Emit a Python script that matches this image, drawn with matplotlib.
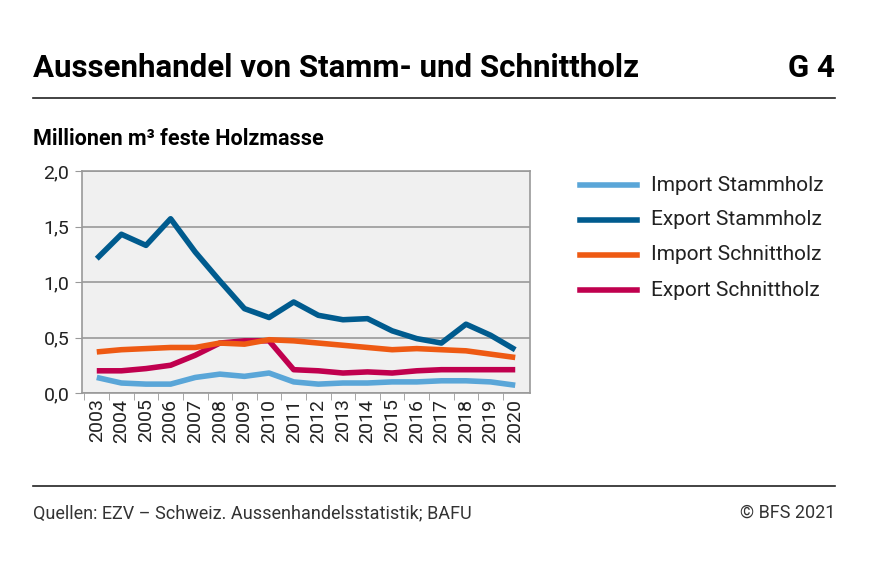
import matplotlib
matplotlib.use("Agg")
import matplotlib.pyplot as plt
from matplotlib.lines import Line2D

plt.rcParams['font.family'] = ['Roboto', 'DejaVu Sans']

years = list(range(2003, 2021))
import_stamm = [0.14,0.09,0.08,0.08,0.14,0.17,0.15,0.18,0.10,0.08,0.09,0.09,0.10,0.10,0.11,0.11,0.10,0.07]
export_stamm = [1.21,1.43,1.33,1.57,1.27,1.01,0.76,0.68,0.82,0.70,0.66,0.67,0.56,0.49,0.45,0.62,0.52,0.39]
import_schnitt = [0.37,0.39,0.40,0.41,0.41,0.45,0.44,0.48,0.47,0.45,0.43,0.41,0.39,0.40,0.39,0.38,0.35,0.32]
export_schnitt = [0.20,0.20,0.22,0.25,0.34,0.45,0.47,0.47,0.21,0.20,0.18,0.19,0.18,0.20,0.21,0.21,0.21,0.21]
names = ["Import Stammholz","Export Stammholz","Import Schnittholz","Export Schnittholz"]
colors = ["#5aa6d8","#005b8e","#ee5a13","#c0004e"]

fig = plt.figure(figsize=(8.74,5.65), dpi=100)
ax = fig.add_axes([82/874, 1-393/565, 448/874, 222/565])
ax.set_facecolor("#f0f0f0")
series = [import_stamm, export_stamm, import_schnitt, export_schnitt]
for i in [3,2,0,1]:
    ax.plot(years, series[i], color=colors[i], lw=4, solid_capstyle='butt', zorder=3)
ax.set_xlim(2002.4, 2020.6)
ax.set_ylim(0, 2.0)
ax.set_yticks([0,0.5,1.0,1.5,2.0])
ax.set_yticklabels(["0,0","0,5","1,0","1,5","2,0"], fontsize=14, color="#222")
ax.set_xticks(years)
ax.set_xticklabels([str(y) for y in years], rotation=90, fontsize=14, color="#222")
ax.set_xticks([y+0.5 for y in years[:-1]] + [2002.5], minor=True)
ax.tick_params(axis='x', which='major', length=0, pad=4)
ax.tick_params(axis='x', which='minor', length=5, color="#999")
ax.tick_params(axis='y', length=5, color="#999", pad=4)
ax.grid(axis='y', color="#999", lw=1.2, zorder=1)
for s in ax.spines.values():
    s.set_color("#999"); s.set_linewidth(1.2)

fig.text(33/874, 1-68/565, "Aussenhandel von Stamm- und Schnittholz", fontsize=22.5, fontweight='bold', va='center')
fig.text(835/874, 1-68/565, "G 4", fontsize=22.5, fontweight='bold', va='center', ha='right')
fig.add_artist(Line2D([33/874, 835/874], [1-98/565]*2, color="#222", lw=1.2))
fig.text(33/874, 1-139/565, "Millionen m³ feste Holzmasse", fontsize=15.5, fontweight='bold', va='center')
fig.add_artist(Line2D([33/874, 835/874], [1-486/565]*2, color="#222", lw=1.2))
fig.text(33/874, 1-513/565, "Quellen: EZV – Schweiz. Aussenhandelsstatistik; BAFU", fontsize=13, va='center', color="#333")
fig.text(835/874, 1-513/565, "© BFS 2021", fontsize=13, va='center', ha='right', color="#333")

for k, (n, c) in enumerate(zip(names, colors)):
    y = 1-(185+35*k)/565
    fig.add_artist(Line2D([580/874, 637/874], [y, y], color=c, lw=4))
    fig.text(651/874, y, n, fontsize=15, va='center', color="#222")

fig.savefig("out.png", dpi=100)
